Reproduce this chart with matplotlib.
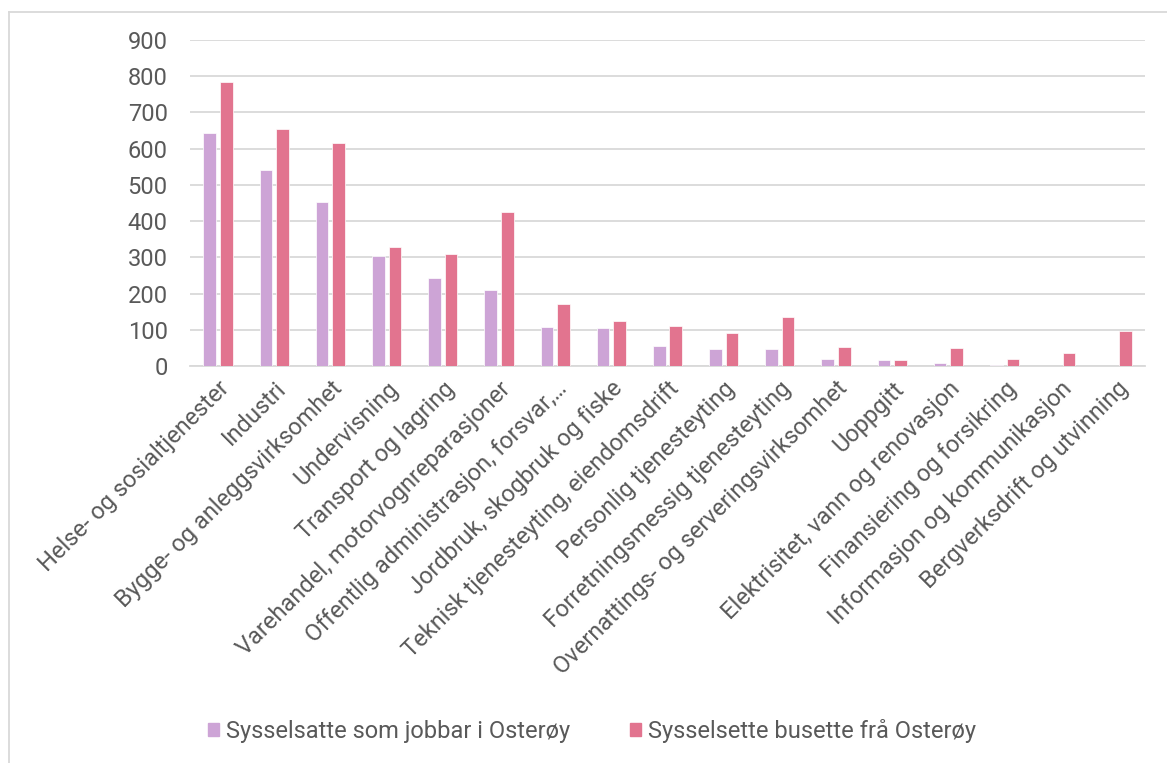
import matplotlib
matplotlib.use("Agg")
import matplotlib.pyplot as plt
import numpy as np
from matplotlib.patches import Rectangle
from matplotlib.lines import Line2D

categories = [
    "Helse- og sosialtjenester",
    "Industri",
    "Bygge- og anleggsvirksomhet",
    "Undervisning",
    "Transport og lagring",
    "Varehandel, motorvognreparasjoner",
    "Offentlig administrasjon, forsvar,…",
    "Jordbruk, skogbruk og fiske",
    "Teknisk tjenesteyting, eiendomsdrift",
    "Personlig tjenesteyting",
    "Forretningsmessig tjenesteyting",
    "Overnattings- og serveringsvirksomhet",
    "Uoppgitt",
    "Elektrisitet, vann og renovasjon",
    "Finansiering og forsikring",
    "Informasjon og kommunikasjon",
    "Bergverksdrift og utvinning",
]
jobbar = [643, 542, 452, 305, 243, 210, 107, 106, 56, 47, 46, 20, 16, 7, 2, 1, 1]
busette = [785, 654, 617, 328, 309, 426, 171, 123, 111, 91, 134, 52, 16, 49, 18, 35, 96]
series_names = ["Sysselsatte som jobbar i Osterøy", "Sysselsette busette frå Osterøy"]
yticks = [0, 100, 200, 300, 400, 500, 600, 700, 800, 900]

plt.rcParams['font.family'] = ['Roboto', 'DejaVu Sans']
txt = "#595959"
c1 = "#CDA4D6"
c2 = "#E2748F"
fs = 17

W, H = 1167, 763
fig = plt.figure(figsize=(W/100, H/100), dpi=100)
ax = fig.add_axes([190/W, 1-366/H, (1145-190)/W, (366-40)/H])

x = np.arange(len(categories))
bw = 0.225
off = 0.148
ax.bar(x - off, jobbar, bw, color=c1, edgecolor="white", linewidth=0.5, zorder=3)
ax.bar(x + off, busette, bw, color=c2, edgecolor="white", linewidth=0.5, zorder=3)

ax.set_xlim(-0.5, len(categories) - 0.5)
ax.set_ylim(0, 900)
ax.set_yticks(yticks)
ax.set_yticklabels([str(v) for v in yticks], fontsize=fs, color=txt)
ax.yaxis.grid(True, color="#D9D9D9", linewidth=1.3, zorder=0)
ax.set_axisbelow(True)
for s in ["top", "right", "left"]:
    ax.spines[s].set_visible(False)
ax.spines["bottom"].set_color("#D9D9D9")
ax.spines["bottom"].set_linewidth(1.3)
ax.tick_params(axis="y", length=0, pad=16)
ax.tick_params(axis="x", length=0, pad=8)
ax.set_xticks(x)
ax.set_xticklabels(categories, rotation=45, ha="right", va="top",
                   rotation_mode="anchor", fontsize=fs, color=txt)

# outer border (left and top)
fig.add_artist(Line2D([9/W, 9/W], [0, 1-12/H], transform=fig.transFigure,
                      color="#D9D9D9", linewidth=1.3))
fig.add_artist(Line2D([9/W, 1], [1-12/H, 1-12/H], transform=fig.transFigure,
                      color="#D9D9D9", linewidth=1.3))

handles = [Rectangle((0, 0), 1, 1, color=c1), Rectangle((0, 0), 1, 1, color=c2)]
leg = fig.legend(handles, series_names, loc="center", bbox_to_anchor=(592/W, 1-731/H),
                 ncol=2, frameon=False, fontsize=fs, labelcolor=txt,
                 handlelength=0.5, handleheight=0.5, handletextpad=0.3, columnspacing=2.5)

fig.savefig("out.png", dpi=100)
